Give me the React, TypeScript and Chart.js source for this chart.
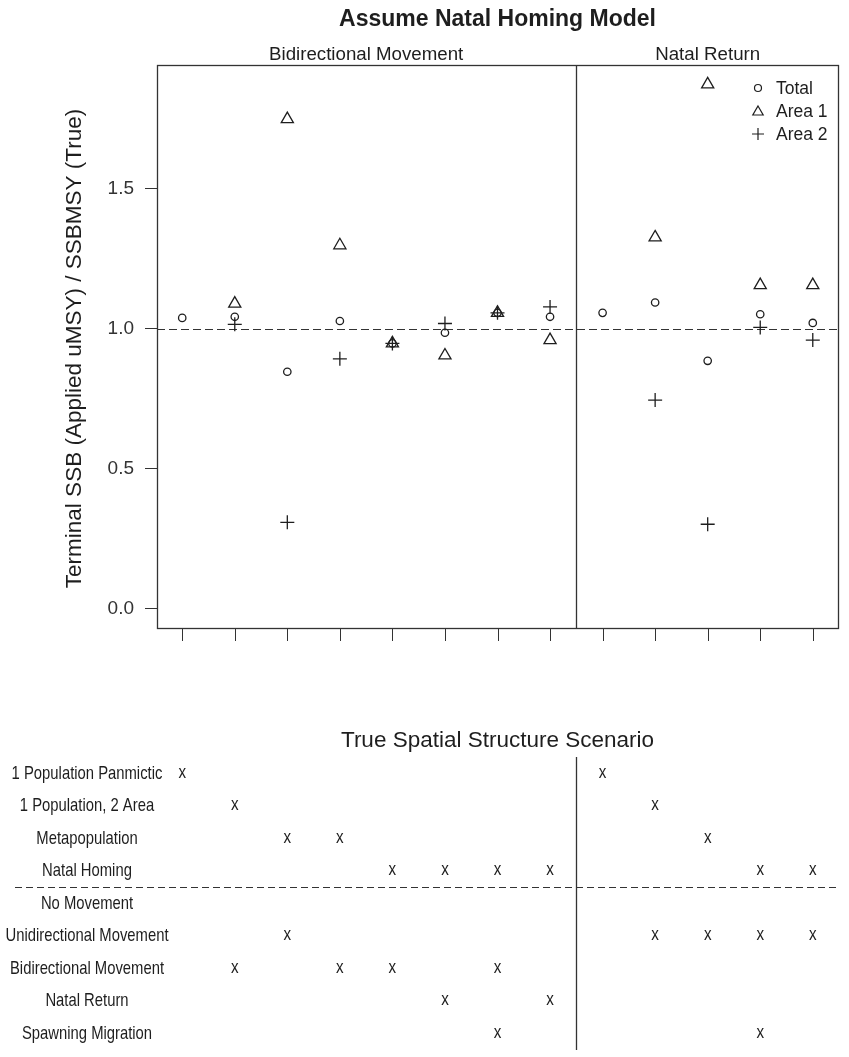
import React, { useEffect, useRef } from "react";
import { Chart, registerables } from "chart.js";

Chart.register(...registerables);

const FONT = "'Liberation Sans', Arial, Helvetica, sans-serif";
const INK = "#1e1e1e";

// ---------- Data ----------
const columns = [1, 2, 3, 4, 5, 6, 7, 8, 9, 10, 11, 12, 13];
const totalValues = [1.038, 1.042, 0.846, 1.027, 0.947, 0.985, 1.056, 1.042, 1.056, 1.093, 0.885, 1.051, 1.02];
const area1Values = [null, 1.089, 1.747, 1.297, 0.947, 0.904, 1.056, 0.959, null, 1.325, 1.871, 1.155, 1.155];
const area2Values = [null, 1.015, 0.309, 0.892, 0.947, 1.018, 1.056, 1.077, null, 0.745, 0.302, 1.004, 0.959];
const seriesNames = ["Total", "Area 1", "Area 2"];
const yTickValues = [0, 0.5, 1.0, 1.5];
const referenceValue = 1.0;
const dividerAt = 8.5;
const panelNames = ["Bidirectional Movement", "Natal Return"];
const panelRanges = [
  [1, 8],
  [9, 13],
];
const mainTitle = "Assume Natal Homing Model";
const yAxisTitle = "Terminal SSB (Applied uMSY) / SSBMSY (True)";

const tableTitle = "True Spatial Structure Scenario";
const rowLabels = [
  "1 Population Panmictic",
  "1 Population, 2 Area",
  "Metapopulation",
  "Natal Homing",
  "No Movement",
  "Unidirectional Movement",
  "Bidirectional Movement",
  "Natal Return",
  "Spawning Migration",
];
const rowMarks = [
  [1, 9],
  [2, 10],
  [3, 4, 11],
  [5, 6, 7, 8, 12, 13],
  [],
  [3, 10, 11, 12, 13],
  [2, 4, 5, 7],
  [6, 8],
  [7, 12],
];
const groupSeparatorAfterRow = 4;

// ---------- helpers ----------
function toPoints(vals: (number | null)[]) {
  const out: { x: number; y: number }[] = [];
  vals.forEach((v, i) => {
    if (v !== null && v !== undefined) out.push({ x: columns[i], y: v });
  });
  return out;
}

function drawMarker(ctx: CanvasRenderingContext2D, style: string, x: number, y: number, r: number) {
  ctx.beginPath();
  if (style === "circle") {
    ctx.arc(x, y, r, 0, Math.PI * 2);
  } else if (style === "triangle") {
    for (let k = 0; k < 3; k++) {
      const a = (k * 2 * Math.PI) / 3;
      const px = x + Math.sin(a) * r;
      const py = y - Math.cos(a) * r;
      if (k === 0) ctx.moveTo(px, py);
      else ctx.lineTo(px, py);
    }
    ctx.closePath();
  } else {
    ctx.moveTo(x - r, y);
    ctx.lineTo(x + r, y);
    ctx.moveTo(x, y - r);
    ctx.lineTo(x, y + r);
  }
  ctx.stroke();
}

function condensedText(
  ctx: CanvasRenderingContext2D,
  text: string,
  x: number,
  y: number,
  size: number,
  sx: number
) {
  ctx.save();
  ctx.translate(x, y);
  ctx.scale(sx, 1);
  ctx.font = `${size}px ${FONT}`;
  ctx.textAlign = "center";
  ctx.textBaseline = "middle";
  ctx.fillText(text, 0, 0);
  ctx.restore();
}

const topDecor = {
  id: "topDecor",
  beforeDatasetsDraw(chart: any) {
    const { ctx, chartArea: a, scales } = chart;
    const x = scales.x;
    const y = scales.y;
    ctx.save();
    ctx.strokeStyle = "#333";
    ctx.lineWidth = 1;
    // reference dashed line
    const yr = Math.round(y.getPixelForValue(referenceValue)) + 0.5;
    ctx.setLineDash([8, 4]);
    ctx.beginPath();
    ctx.moveTo(a.left, yr);
    ctx.lineTo(a.right, yr);
    ctx.stroke();
    ctx.setLineDash([]);
    // divider
    ctx.lineWidth = 1.3;
    const xd = Math.round(x.getPixelForValue(dividerAt)) + 0.5;
    ctx.beginPath();
    ctx.moveTo(xd, a.top);
    ctx.lineTo(xd, a.bottom);
    ctx.stroke();
    // box
    ctx.strokeRect(Math.round(a.left) + 0.5, Math.round(a.top) + 0.5, Math.round(a.width), Math.round(a.height));
    // x tick marks
    ctx.lineWidth = 1;
    columns.forEach((c) => {
      const px = Math.round(x.getPixelForValue(c)) + 0.5;
      ctx.beginPath();
      ctx.moveTo(px, a.bottom);
      ctx.lineTo(px, a.bottom + 13);
      ctx.stroke();
    });
    ctx.restore();
  },
  afterDraw(chart: any) {
    const { ctx, chartArea: a, scales } = chart;
    const x = scales.x;
    ctx.save();
    ctx.fillStyle = INK;
    ctx.textAlign = "center";
    ctx.textBaseline = "middle";
    // title
    ctx.font = `bold 23px ${FONT}`;
    ctx.fillText(mainTitle, (a.left + a.right) / 2, 20);
    // panel labels
    ctx.font = `18.7px ${FONT}`;
    panelNames.forEach((name, i) => {
      const [s, e] = panelRanges[i];
      const cx = (x.getPixelForValue(s) + x.getPixelForValue(e)) / 2;
      ctx.fillText(name, cx, a.top - 10);
    });
    // y axis title
    ctx.save();
    ctx.translate(75, (a.top + a.bottom) / 2 + 2);
    ctx.rotate(-Math.PI / 2);
    ctx.font = `22.5px ${FONT}`;
    ctx.fillText(yAxisTitle, 0, 0);
    ctx.restore();
    // legend
    const styles = chart.data.datasets.map((d: any) => d.pointStyle);
    const radii = [3.5, 6, 6];
    ctx.font = `17.5px ${FONT}`;
    ctx.textAlign = "left";
    ctx.strokeStyle = INK;
    ctx.lineWidth = 1.2;
    seriesNames.forEach((name, i) => {
      const ly = a.top + 23 + i * 23;
      drawMarker(ctx, styles[i], a.right - 80, ly + (styles[i] === "triangle" ? 1 : 0), radii[i]);
      ctx.fillText(name, a.right - 62, ly + 1);
    });
    ctx.restore();
  },
};

const bottomDecor = {
  id: "bottomDecor",
  beforeDatasetsDraw(chart: any) {
    const { ctx, chartArea: a, scales } = chart;
    const x = scales.x;
    const y = scales.y;
    ctx.save();
    ctx.strokeStyle = "#333";
    ctx.lineWidth = 1;
    const ys = Math.round(y.getPixelForValue(groupSeparatorAfterRow + 0.5)) + 0.5;
    ctx.setLineDash([7, 4]);
    ctx.beginPath();
    ctx.moveTo(15, ys);
    ctx.lineTo(a.right, ys);
    ctx.stroke();
    ctx.setLineDash([]);
    ctx.lineWidth = 1.3;
    const xd = Math.round(x.getPixelForValue(dividerAt)) + 0.5;
    ctx.beginPath();
    ctx.moveTo(xd, a.top);
    ctx.lineTo(xd, a.bottom);
    ctx.stroke();
    ctx.restore();
  },
  afterDatasetsDraw(chart: any) {
    const { ctx, chartArea: a, scales } = chart;
    const y = scales.y;
    ctx.save();
    ctx.fillStyle = INK;
    // title
    ctx.font = `22.5px ${FONT}`;
    ctx.textAlign = "center";
    ctx.textBaseline = "middle";
    ctx.fillText(tableTitle, (a.left + a.right) / 2, a.top - 16);
    // row labels
    rowLabels.forEach((lab, i) => {
      condensedText(ctx, lab, 87, y.getPixelForValue(i + 1), 19, 0.78);
    });
    // x marks
    const meta = chart.getDatasetMeta(0);
    meta.data.forEach((el: any) => {
      condensedText(ctx, "x", el.x, el.y - 1, 19, 0.8);
    });
    ctx.restore();
  },
};

export default function App() {
  const topRef = useRef<HTMLCanvasElement | null>(null);
  const botRef = useRef<HTMLCanvasElement | null>(null);

  useEffect(() => {
    const common = { family: FONT };
    const top = new Chart(topRef.current as HTMLCanvasElement, {
      type: "scatter",
      data: {
        datasets: [
          {
            label: seriesNames[0],
            data: toPoints(totalValues),
            pointStyle: "circle",
            pointRadius: 3.7,
            borderColor: INK,
            backgroundColor: "rgba(0,0,0,0)",
            borderWidth: 1.3,
          },
          {
            label: seriesNames[1],
            data: toPoints(area1Values),
            pointStyle: "triangle",
            pointRadius: 7,
            borderColor: INK,
            backgroundColor: "rgba(0,0,0,0)",
            borderWidth: 1.3,
          },
          {
            label: seriesNames[2],
            data: toPoints(area2Values),
            pointStyle: "cross",
            pointRadius: 7,
            borderColor: INK,
            backgroundColor: "rgba(0,0,0,0)",
            borderWidth: 1.3,
          },
        ],
      } as any,
      options: {
        responsive: false,
        animation: false,
        maintainAspectRatio: false,
        layout: { padding: { left: 0, right: 11, top: 65, bottom: 32 } },
        plugins: {
          legend: { display: false },
          tooltip: { enabled: false },
          title: { display: false },
        },
        scales: {
          x: { type: "linear", min: 0.52, max: 13.48, display: false },
          y: {
            type: "linear",
            min: -0.068,
            max: 1.94,
            afterFit: (s: any) => {
              s.width = 157;
            },
            afterBuildTicks: (s: any) => {
              s.ticks = yTickValues.map((v) => ({ value: v }));
            },
            ticks: {
              callback: (v: any) => Number(v).toFixed(1),
              font: { ...common, size: 19 },
              color: "#333",
              padding: 11,
            },
            grid: {
              drawOnChartArea: false,
              drawTicks: true,
              tickLength: 12,
              color: "#333",
              lineWidth: 1,
            },
            border: { display: false },
          },
        },
      } as any,
      plugins: [topDecor],
    });

    const markPoints: { x: number; y: number }[] = [];
    rowMarks.forEach((cols, r) => cols.forEach((c) => markPoints.push({ x: c, y: r + 1 })));

    const bottom = new Chart(botRef.current as HTMLCanvasElement, {
      type: "scatter",
      data: {
        datasets: [
          {
            label: tableTitle,
            data: markPoints,
            pointRadius: 0,
            pointHoverRadius: 0,
          },
        ],
      },
      options: {
        responsive: false,
        animation: false,
        maintainAspectRatio: false,
        layout: { padding: { left: 157, right: 11, top: 97, bottom: 7 } },
        plugins: {
          legend: { display: false },
          tooltip: { enabled: false },
        },
        scales: {
          x: { type: "linear", min: 0.52, max: 13.48, display: false },
          y: { type: "linear", min: 0.5, max: rowLabels.length + 0.5, reverse: true, display: false },
        },
      } as any,
      plugins: [bottomDecor],
    });

    return () => {
      top.destroy();
      bottom.destroy();
    };
  }, []);

  return (
    <div style={{ position: "absolute", left: 0, top: 0, width: 849, height: 1057, background: "#fff" }}>
      <canvas ref={topRef} width={849} height={660} style={{ display: "block", width: 849, height: 660 }} />
      <canvas ref={botRef} width={849} height={397} style={{ display: "block", width: 849, height: 397 }} />
    </div>
  );
}
